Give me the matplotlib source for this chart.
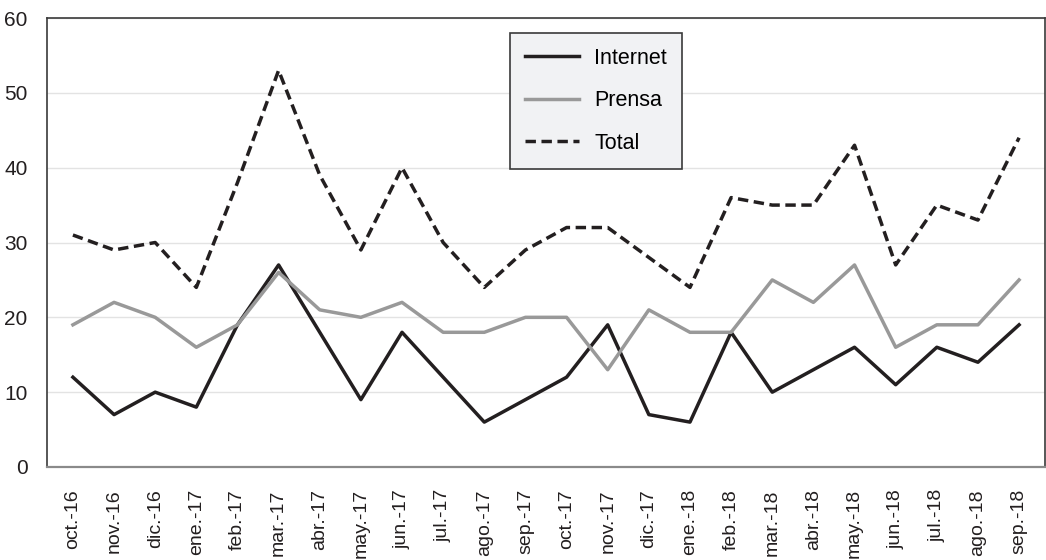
import matplotlib
matplotlib.use("Agg")
import matplotlib.pyplot as plt

plt.rcParams['font.family'] = ['Liberation Sans', 'DejaVu Sans']

# Months (Spanish labels as in the source)
meses = ['oct.-16', 'nov.-16', 'dic.-16', 'ene.-17', 'feb.-17', 'mar.-17',
         'abr.-17', 'may.-17', 'jun.-17', 'jul.-17', 'ago.-17', 'sep.-17',
         'oct.-17', 'nov.-17', 'dic.-17', 'ene.-18', 'feb.-18', 'mar.-18',
         'abr.-18', 'may.-18', 'jun.-18', 'jul.-18', 'ago.-18', 'sep.-18']

internet = [12, 7, 10, 8, 19, 27, 18, 9, 18, 12, 6, 9,
            12, 19, 7, 6, 18, 10, 13, 16, 11, 16, 14, 19]
prensa = [19, 22, 20, 16, 19, 26, 21, 20, 22, 18, 18, 20,
          20, 13, 21, 18, 18, 25, 22, 27, 16, 19, 19, 25]
total = [31, 29, 30, 24, 38, 53, 39, 29, 40, 30, 24, 29,
         32, 32, 28, 24, 36, 35, 35, 43, 27, 35, 33, 44]

fig = plt.figure(figsize=(10.46, 5.6), dpi=100)
ax = fig.add_axes([47 / 1046, 93 / 560, 998 / 1046, 449 / 560])

x = range(len(meses))
ax.plot(x, internet, color='#231f20', lw=2.5, label='Internet')
ax.plot(x, prensa, color='#999999', lw=2.5, label='Prensa')
ax.plot(x, total, color='#231f20', lw=2.5, ls=(0, (3, 1.6)), label='Total')

ax.set_ylim(0, 60)
ax.set_xlim(-0.63, len(meses) - 1 + 0.63)
ax.set_yticks(range(0, 61, 10))
ax.set_xticks(list(x))
ax.set_xticklabels(meses, rotation=90)
ax.tick_params(axis='both', length=0, colors='#231f20')
ax.tick_params(axis='y', pad=14, labelsize=15)
ax.tick_params(axis='x', pad=16, labelsize=14)

ax.grid(axis='y', color='#e3e3e3', lw=1)
ax.set_axisbelow(True)
for side in ['left', 'top', 'right']:
    ax.spines[side].set_color('#3a3a3a')
    ax.spines[side].set_linewidth(1.2)
ax.spines['bottom'].set_color('#8a8a8a')
ax.spines['bottom'].set_linewidth(1.6)

leg = ax.legend(loc='upper left', bbox_to_anchor=(0.464, 0.967), fontsize=15.5,
                handlelength=2.5, handletextpad=0.7, labelspacing=1.0,
                borderpad=0.7, borderaxespad=0, fancybox=False, framealpha=1)
leg.get_frame().set_facecolor('#f1f2f4')
leg.get_frame().set_edgecolor('#3a3a3a')
leg.get_frame().set_linewidth(1.2)

fig.savefig('out.png', dpi=100)
